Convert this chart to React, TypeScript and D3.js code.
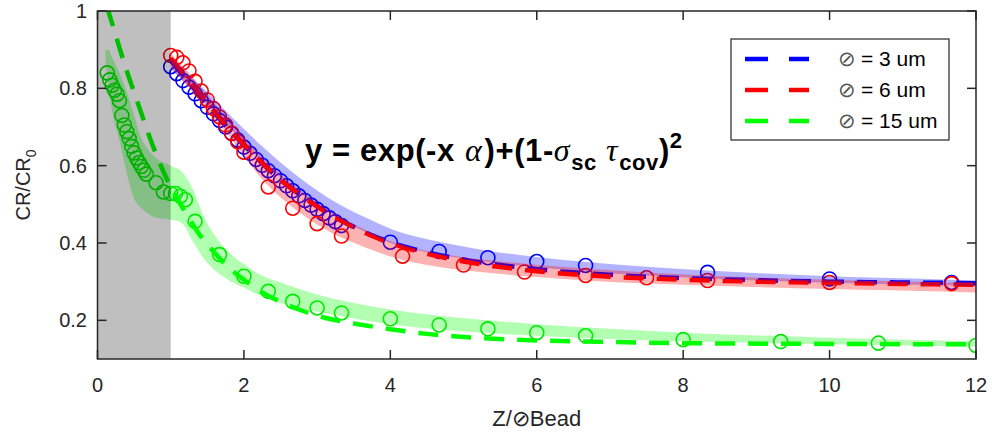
import React from 'react';
import * as d3 from 'd3';

// ---------- data ----------
const xTicks = [0, 2, 4, 6, 8, 10, 12];
const xTickLabels = ['0', '2', '4', '6', '8', '10', '12'];
const yTicks = [0.2, 0.4, 0.6, 0.8, 1];
const yTickLabels = ['0.2', '0.4', '0.6', '0.8', '1'];

const legendLabels = ['= 3 um', '= 6 um', '= 15 um'];

// 3 um (blue) measured points
const blueX = [1.0, 1.083, 1.167, 1.25, 1.333, 1.417, 1.5, 1.583, 1.667, 1.75, 1.833, 1.917, 2.0, 2.083, 2.167, 2.25, 2.333, 2.417, 2.5, 2.583, 2.667, 2.75, 2.833, 2.917, 3.0, 3.083, 3.167, 3.25, 3.333, 4.0, 4.667, 5.333, 6.0, 6.667, 8.333, 10.0, 11.667];
const blueY = [0.856, 0.838, 0.82, 0.803, 0.786, 0.768, 0.751, 0.734, 0.717, 0.7, 0.683, 0.666, 0.648, 0.632, 0.616, 0.601, 0.587, 0.574, 0.561, 0.548, 0.535, 0.522, 0.51, 0.498, 0.487, 0.476, 0.465, 0.455, 0.445, 0.402, 0.378, 0.362, 0.352, 0.342, 0.324, 0.307, 0.298];

// 6 um (red) measured points
const redX = [1.0, 1.083, 1.167, 1.25, 1.333, 1.417, 1.5, 1.583, 1.667, 1.75, 1.833, 1.917, 2.0, 2.333, 2.667, 3.0, 3.333, 4.167, 5.0, 5.833, 6.667, 7.5, 8.333, 10.0, 11.667];
const redY = [0.885, 0.88, 0.866, 0.845, 0.818, 0.793, 0.77, 0.748, 0.726, 0.705, 0.684, 0.662, 0.635, 0.545, 0.49, 0.45, 0.418, 0.366, 0.343, 0.325, 0.316, 0.31, 0.303, 0.298, 0.295];

// 15 um (green) measured points
const greenX = [0.133, 0.167, 0.2, 0.233, 0.267, 0.3, 0.333, 0.367, 0.4, 0.433, 0.467, 0.5, 0.533, 0.567, 0.6, 0.633, 0.667, 0.8, 0.9, 1.0, 1.067, 1.133, 1.2, 1.333, 1.667, 2.0, 2.333, 2.667, 3.0, 3.333, 4.0, 4.667, 5.333, 6.0, 6.667, 8.0, 9.333, 10.667, 12.0];
const greenY = [0.84, 0.822, 0.808, 0.795, 0.785, 0.768, 0.73, 0.705, 0.688, 0.67, 0.65, 0.633, 0.62, 0.608, 0.598, 0.588, 0.578, 0.556, 0.532, 0.528, 0.528, 0.521, 0.512, 0.456, 0.37, 0.314, 0.275, 0.249, 0.232, 0.219, 0.204, 0.188, 0.178, 0.168, 0.16, 0.15, 0.145, 0.141, 0.135];

// fitted curves (dashed)
const blueFitX = [1.0, 1.25, 1.5, 1.75, 2.0, 2.25, 2.5, 2.75, 3.0, 3.25, 3.5, 3.75, 4.0, 4.5, 5.0, 5.5, 6.0, 7.0, 8.0, 9.0, 10.0, 11.0, 12.0];
const blueFitY = [0.872, 0.815, 0.758, 0.704, 0.653, 0.606, 0.563, 0.527, 0.495, 0.466, 0.442, 0.42, 0.402, 0.376, 0.357, 0.343, 0.332, 0.318, 0.309, 0.304, 0.3, 0.298, 0.296];
const redFitX = [1.0, 1.25, 1.5, 1.75, 2.0, 2.25, 2.5, 2.75, 3.0, 3.25, 3.5, 3.75, 4.0, 4.5, 5.0, 5.5, 6.0, 7.0, 8.0, 9.0, 10.0, 11.0, 12.0];
const redFitY = [0.878, 0.82, 0.762, 0.707, 0.655, 0.607, 0.563, 0.527, 0.495, 0.466, 0.441, 0.418, 0.4, 0.372, 0.352, 0.338, 0.327, 0.313, 0.305, 0.3, 0.297, 0.294, 0.292];
const greenFitX = [0.13, 0.2, 0.3, 0.4, 0.5, 0.6, 0.7, 0.8, 0.9, 1.0, 1.2, 1.4, 1.6, 1.8, 2.0, 2.25, 2.5, 2.75, 3.0, 3.5, 4.0, 4.5, 5.0, 6.0, 7.0, 8.0, 10.0, 12.0];
const greenFitY = [1.01, 0.968, 0.905, 0.845, 0.79, 0.735, 0.68, 0.63, 0.585, 0.545, 0.48, 0.42, 0.375, 0.335, 0.305, 0.272, 0.248, 0.228, 0.212, 0.192, 0.177, 0.165, 0.157, 0.148, 0.144, 0.141, 0.139, 0.138];

// shaded confidence bands
const blueBandX = [1.0, 1.25, 1.5, 1.75, 2.0, 2.25, 2.5, 2.75, 3.0, 3.33, 3.67, 4.0, 4.67, 5.33, 6.0, 6.67, 8.33, 10.0, 11.67, 12.0];
const blueBandLo = [0.85, 0.805, 0.758, 0.708, 0.66, 0.612, 0.57, 0.532, 0.498, 0.46, 0.427, 0.4, 0.37, 0.351, 0.337, 0.326, 0.308, 0.297, 0.29, 0.289];
const blueBandHi = [0.88, 0.835, 0.79, 0.742, 0.695, 0.65, 0.608, 0.57, 0.536, 0.497, 0.465, 0.437, 0.403, 0.38, 0.364, 0.351, 0.329, 0.314, 0.305, 0.303];
const redBandX = [1.0, 1.25, 1.5, 1.75, 2.0, 2.25, 2.5, 2.75, 3.0, 3.33, 3.67, 4.0, 4.67, 5.33, 6.0, 6.67, 8.33, 10.0, 11.67, 12.0];
const redBandLo = [0.855, 0.8, 0.742, 0.688, 0.625, 0.565, 0.518, 0.48, 0.448, 0.414, 0.388, 0.365, 0.338, 0.323, 0.312, 0.303, 0.29, 0.281, 0.274, 0.272];
const redBandHi = [0.89, 0.84, 0.782, 0.728, 0.672, 0.622, 0.578, 0.54, 0.505, 0.466, 0.433, 0.405, 0.373, 0.356, 0.344, 0.334, 0.316, 0.305, 0.298, 0.296];
const greenBandX = [0.11, 0.15, 0.2, 0.3, 0.4, 0.5, 0.6, 0.7, 0.8, 1.0, 1.15, 1.3, 1.45, 1.6, 1.8, 2.0, 2.25, 2.5, 2.75, 3.0, 3.5, 4.0, 4.67, 5.33, 6.0, 7.0, 8.0, 9.0, 10.0, 11.0, 12.0];
const greenBandLo = [0.87, 0.8, 0.74, 0.665, 0.58, 0.515, 0.49, 0.475, 0.465, 0.46, 0.452, 0.405, 0.36, 0.33, 0.303, 0.284, 0.262, 0.245, 0.232, 0.222, 0.205, 0.19, 0.176, 0.167, 0.16, 0.152, 0.146, 0.142, 0.138, 0.135, 0.132];
const greenBandHi = [0.9, 0.9, 0.88, 0.84, 0.79, 0.73, 0.67, 0.64, 0.62, 0.6, 0.585, 0.54, 0.47, 0.42, 0.375, 0.345, 0.315, 0.298, 0.282, 0.267, 0.245, 0.228, 0.212, 0.2, 0.19, 0.178, 0.168, 0.161, 0.155, 0.15, 0.146];

// ---------- layout ----------
const W = 992;
const H = 434;
const L = 97.5;
const R = 976;
const T = 11;
const B = 359;
const AX = '#262626';
const FONT = 'Liberation Sans, Arial, Helvetica, sans-serif';
const SERIF = 'Liberation Serif, Times New Roman, serif';

const BLUE = '#0000ff';
const RED = '#ff0000';
const GREEN = '#00ff00';
const GREEN_MK = '#00e600';

export default function App() {
  const x = d3.scaleLinear().domain([0, 12]).range([L, R]);
  const y = d3.scaleLinear().domain([0.1, 1]).range([B, T]);

  const zip = (xs: number[], ys: number[]) => xs.map((v, i) => [v, ys[i]] as [number, number]);
  const line = d3.line<[number, number]>().x(d => x(d[0])).y(d => y(d[1])).curve(d3.curveMonotoneX);
  const area = d3
    .area<{ x: number; lo: number; hi: number }>()
    .x(d => x(d.x))
    .y0(d => y(d.lo))
    .y1(d => y(d.hi))
    .curve(d3.curveMonotoneX);
  const band = (xs: number[], lo: number[], hi: number[]) => xs.map((v, i) => ({ x: v, lo: lo[i], hi: hi[i] }));

  const series = [
    { xs: blueX, ys: blueY, c: BLUE },
    { xs: redX, ys: redY, c: RED },
    { xs: greenX, ys: greenY, c: GREEN_MK },
  ];
  const fits = [
    { xs: blueFitX, ys: blueFitY, c: BLUE },
    { xs: redFitX, ys: redFitY, c: RED },
    { xs: greenFitX, ys: greenFitY, c: GREEN },
  ];
  const bands = [
    { d: band(greenBandX, greenBandLo, greenBandHi), c: GREEN },
    { d: band(blueBandX, blueBandLo, blueBandHi), c: BLUE },
    { d: band(redBandX, redBandLo, redBandHi), c: RED },
  ];
  const legendColors = [BLUE, RED, GREEN];
  const tickLen = 9;

  return (
    <svg width={W} height={H} style={{ position: 'absolute', left: 0, top: 0, background: '#fff' }} fontFamily={FONT}>
      <defs>
        <clipPath id="plotClip">
          <rect x={L} y={T} width={R - L} height={B - T} />
        </clipPath>
      </defs>
      <rect x={0} y={0} width={W} height={H} fill="#fff" />
      <g clipPath="url(#plotClip)">
        {series.map((s, si) => (
          <g key={si}>
            {s.xs.map((v, i) => (
              <circle key={i} cx={x(v)} cy={y(s.ys[i])} r={7} fill="none" stroke={s.c} strokeWidth={1.6} />
            ))}
          </g>
        ))}
        {fits.map((f, fi) => (
          <path key={fi} d={line(zip(f.xs, f.ys)) || ''} fill="none" stroke={f.c} strokeWidth={4.5} strokeDasharray="20 13" />
        ))}
        {bands.map((b, bi) => (
          <path key={bi} d={area(b.d) || ''} fill={b.c} fillOpacity={0.3} stroke="none" />
        ))}
        <rect x={x(0)} y={T} width={x(1) - x(0)} height={B - T} fill="#000" fillOpacity={0.25} />
      </g>

      {/* axes box */}
      <rect x={L} y={T} width={R - L} height={B - T} fill="none" stroke={AX} strokeWidth={1.5} />
      {xTicks.map((t, i) => (
        <g key={'xt' + i}>
          <line x1={x(t)} x2={x(t)} y1={B} y2={B - tickLen} stroke={AX} strokeWidth={1.5} />
          <line x1={x(t)} x2={x(t)} y1={T} y2={T + tickLen} stroke={AX} strokeWidth={1.5} />
          <text x={x(t)} y={392} textAnchor="middle" fontSize={20} fill={AX}>
            {xTickLabels[i]}
          </text>
        </g>
      ))}
      {yTicks.map((t, i) => (
        <g key={'yt' + i}>
          <line x1={L} x2={L + tickLen} y1={y(t)} y2={y(t)} stroke={AX} strokeWidth={1.5} />
          <line x1={R} x2={R - tickLen} y1={y(t)} y2={y(t)} stroke={AX} strokeWidth={1.5} />
          <text x={87} y={y(t) + 7} textAnchor="end" fontSize={20} fill={AX}>
            {yTickLabels[i]}
          </text>
        </g>
      ))}

      {/* axis labels */}
      <text x={(L + R) / 2} y={426} textAnchor="middle" fontSize={22} fill={AX}>
        Z/{'\u2298'}Bead
      </text>
      <text transform={`translate(30,${(T + B) / 2}) rotate(-90)`} textAnchor="middle" fontSize={20} fill={AX}>
        CR/CR<tspan fontSize={14} dy={6}>0</tspan>
      </text>

      {/* equation */}
      <text x={305} y={161} fontSize={31} fontWeight="bold" fill="#000" letterSpacing={0.6}>
        <tspan>y = exp(-x </tspan>
        <tspan fontFamily={SERIF} fontStyle="italic" fontWeight="normal" fontSize={32} dx={1}>{'\u03b1'}</tspan>
        <tspan dx={2}>)+(1-</tspan>
        <tspan fontFamily={SERIF} fontStyle="italic" fontWeight="normal" fontSize={32}>{'\u03c3'}</tspan>
        <tspan fontSize={22} dy={9} dx={1}>sc</tspan>
        <tspan dy={-9}> </tspan>
        <tspan fontFamily={SERIF} fontStyle="italic" fontWeight="normal" fontSize={32}>{'\u03c4'}</tspan>
        <tspan fontSize={22} dy={9} dx={1}>cov</tspan>
        <tspan dy={-9}>)</tspan>
        <tspan fontSize={22} dy={-13}>2</tspan>
      </text>

      {/* legend */}
      <rect x={731} y={39} width={218} height={101} fill="#fff" stroke={AX} strokeWidth={1.2} />
      {legendLabels.map((lab, i) => {
        const ly = 59 + i * 31;
        return (
          <g key={'lg' + i}>
            <line x1={745} x2={768} y1={ly} y2={ly} stroke={legendColors[i]} strokeWidth={4.5} />
            <line x1={789} x2={809} y1={ly} y2={ly} stroke={legendColors[i]} strokeWidth={4.5} />
            <text x={838} y={ly + 7} fontSize={21} fill="#555">
              {'\u2298'}
            </text>
            <text x={861} y={ly + 7} fontSize={21} fill="#000">
              {lab}
            </text>
          </g>
        );
      })}
    </svg>
  );
}
